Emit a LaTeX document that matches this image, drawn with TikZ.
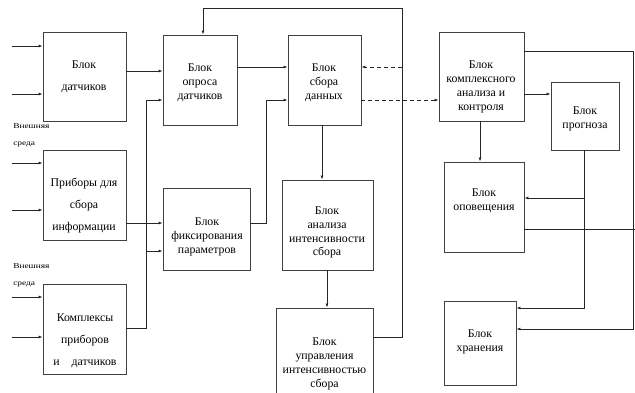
\documentclass[tikz,border=0pt]{standalone}
\usepackage{fontspec}
\setmainfont{Liberation Serif}
\usetikzlibrary{arrows.meta}
\tikzset{
  box/.style={draw=black!75, line width=0.9pt, inner sep=0pt},
  txt/.style={align=center, font=\fontsize{11.8}{13.8}\selectfont, inner sep=0pt},
  wtxt/.style={align=center, font=\fontsize{11.8}{22}\selectfont, inner sep=0pt},
  small/.style={anchor=west, font=\fontsize{7.5}{8}\selectfont, inner sep=0pt, xscale=1.25},
  ln/.style={draw=black!85, line width=0.8pt},
  arr/.style={ln, -{Latex[length=4pt,width=3pt]}},
  darr/.style={arr, dash pattern=on 4pt off 3pt},
}
\begin{document}
\begin{tikzpicture}[x=1pt,y=-1pt]
\clip (0,0) rectangle (635,392);
% boxes
\node[box, minimum width=83pt, minimum height=89pt] (dat) at (84.5,76.5) {};
\node[box, minimum width=74pt, minimum height=90pt] (opr) at (200,80) {};
\node[box, minimum width=73pt, minimum height=90pt] (sbor) at (324.5,80) {};
\node[box, minimum width=83pt, minimum height=90pt] (prib) at (84.5,195) {};
\node[box, minimum width=87pt, minimum height=82pt] (fix) at (206.5,229) {};
\node[box, minimum width=91pt, minimum height=90pt] (anal) at (327.5,225) {};
\node[box, minimum width=83pt, minimum height=90pt] (kompl) at (84.5,329) {};
\node[box, minimum width=97pt, minimum height=112pt] (upr) at (324.5,364) {};
\node[box, minimum width=85pt, minimum height=89pt] (kan) at (481.5,76.5) {};
\node[box, minimum width=68pt, minimum height=68pt] (prog) at (585,116) {};
\node[box, minimum width=80pt, minimum height=90pt] (opov) at (484,207) {};
\node[box, minimum width=72pt, minimum height=84pt] (hran) at (480,343) {};
% texts
\node[wtxt] (datt) at (84,77) {Блок\\датчиков};
\node[txt] (oprt) at (200,83) {Блок\\опроса\\датчиков};
\node[txt] (sbort) at (324,83) {Блок\\сбора\\данных};
\node[wtxt] (pribt) at (84,206) {Приборы для\\сбора\\информации};
\node[txt] (fixt) at (207,237) {Блок\\фиксирования\\параметров};
\node[txt] (analt) at (327,232.5) {Блок\\анализа\\интенсивности\\сбора};
\node[wtxt] (komplt) at (85,340.5) {Комплексы\\приборов\\и\quad датчиков};
\node[txt] (uprt) at (324.5,364) {Блок\\управления\\интенсивностью\\сбора};
\node[txt] (kant) at (481,87) {Блок\\комплексного\\анализа и\\контроля};
\node[txt] (progt) at (585,119) {Блок\\прогноза};
\node[txt] (opovt) at (484,201) {Блок\\оповещения};
\node[txt] (hrant) at (480,342) {Блок\\хранения};
% external environment labels
\node[small] (ext1a) at (13,126) {Внешняя};
\node[small] (ext1b) at (13,145) {среда};
\node[small] (ext2a) at (13,266) {Внешняя};
\node[small] (ext2b) at (13,285) {среда};
% free ends
\coordinate (i1) at (12,46);
\coordinate (i2) at (12,94);
\coordinate (i3) at (12,163);
\coordinate (i4) at (12,210);
\coordinate (i5) at (12,297);
\coordinate (i6) at (12,337);
\coordinate (fbr) at (402,337);
\coordinate (fbt) at (402,8);
\coordinate (fbl) at (203,8);
\coordinate (busb) at (146,328);
\coordinate (bust) at (146,100);
\coordinate (busm) at (146,251);
\coordinate (fxb) at (266,223);
\coordinate (fxt) at (266,100);
\coordinate (dsh) at (402,67);
\coordinate (kr1) at (633,51);
\coordinate (kr2) at (633,329);
\coordinate (pg1) at (584,308);
\coordinate (pg2) at (584,198);
\coordinate (oe) at (635,229);
% inputs
\draw[arr] (i1) -- (i1 -| dat.west);
\draw[arr] (i2) -- (i2 -| dat.west);
\draw[arr] (i3) -- (i3 -| prib.west);
\draw[arr] (i4) -- (i4 -| prib.west);
\draw[arr] (i5) -- (i5 -| kompl.west);
\draw[arr] (i6) -- (i6 -| kompl.west);
% main flow
\draw[arr] (dat.east |- 0,71) -- (opr.west |- 0,71);
\draw[arr] (opr.east |- 0,67) -- (sbor.west |- 0,67);
\draw[arr] (sbor.south -| 322,0) -- (anal.north -| 322,0);
\draw[arr] (anal.south -| 327,0) -- (upr.north -| 327,0);
\draw[arr] (upr.east |- fbr) -- (fbr) -- (fbt) -- (fbl) -- (opr.north -| fbl);
\draw[arr] (kompl.east |- busb) -- (busb) -- (bust) -- (opr.west |- bust);
\draw[arr] (busm) -- (fix.west |- busm);
\draw[arr] (prib.east |- fxb) -- (fix.west |- fxb);
\draw[arr] (fix.east |- fxb) -- (fxb) -- (fxt) -- (sbor.west |- fxt);
\draw[darr] (dsh) -- (sbor.east |- dsh);
\draw[darr] (sbor.east |- 0,100) -- (kan.west |- 0,100);
% right part
\draw[arr] (kan.east |- 0,94) -- (prog.west |- 0,94);
\draw[arr] (kan.south -| 480,0) -- (opov.north -| 480,0);
\draw[arr] (kan.east |- kr1) -- (kr1) -- (kr2) -- (hran.east |- kr2);
\draw[arr] (prog.south -| pg1) -- (pg1) -- (hran.east |- pg1);
\draw[arr] (pg2) -- (opov.east |- pg2);
\draw[ln] (opov.east |- oe) -- (oe);
\end{tikzpicture}
\end{document}
